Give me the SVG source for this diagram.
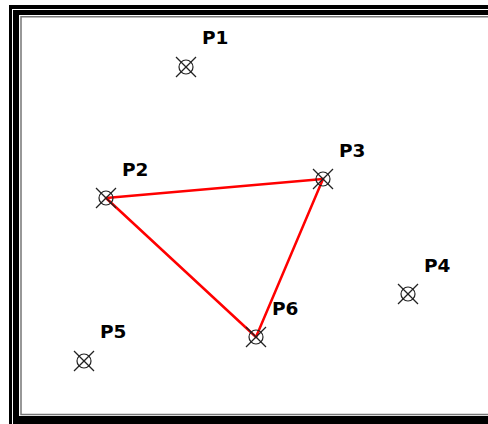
<svg xmlns="http://www.w3.org/2000/svg" width="488" height="424" viewBox="0 0 488 424">
<style>
.lbl{font-family:"DejaVu Sans",Verdana,sans-serif;font-weight:bold;font-size:18.5px;fill:#000}
.edge{stroke:#ff0000;stroke-width:2.5;fill:none;stroke-linecap:round}
</style>
<defs>
<g id="m" fill="none" stroke="#222" stroke-width="1.2"><circle cx="0" cy="0" r="7" fill="none"/><line x1="-10" y1="-10" x2="10" y2="10"/><line x1="-10" y1="10" x2="10" y2="-10"/></g>
</defs>
<rect x="0" y="0" width="488" height="424" fill="#fff"/>
<g id="frame">
<rect x="9" y="5" width="500" height="440" fill="#000"/>
<rect x="12" y="9" width="500" height="440" fill="#fff"/>
<rect x="13" y="10" width="500" height="440" fill="#000"/>
<rect x="19" y="15" width="500" height="401" fill="#fff"/>
<rect x="21" y="16.75" width="500" height="397.75" fill="none" stroke="#777" stroke-width="1.5"/>
</g>
<g id="connectors">
<line class="edge" x1="106" y1="198" x2="323" y2="179"/>
<line class="edge" x1="323" y1="179" x2="256" y2="337"/>
<line class="edge" x1="256" y1="337" x2="106" y2="198"/>
</g>
<g id="P1"><use href="#m" x="186" y="67"/><text class="lbl" x="202" y="44">P1</text></g>
<g id="P2"><use href="#m" x="106" y="198"/><text class="lbl" x="122" y="176">P2</text></g>
<g id="P3"><use href="#m" x="323" y="179"/><text class="lbl" x="339" y="157">P3</text></g>
<g id="P4"><use href="#m" x="408" y="294"/><text class="lbl" x="424" y="272">P4</text></g>
<g id="P5"><use href="#m" x="84" y="361"/><text class="lbl" x="100" y="338">P5</text></g>
<g id="P6"><use href="#m" x="256" y="337"/><text class="lbl" x="272" y="315">P6</text></g>
</svg>
